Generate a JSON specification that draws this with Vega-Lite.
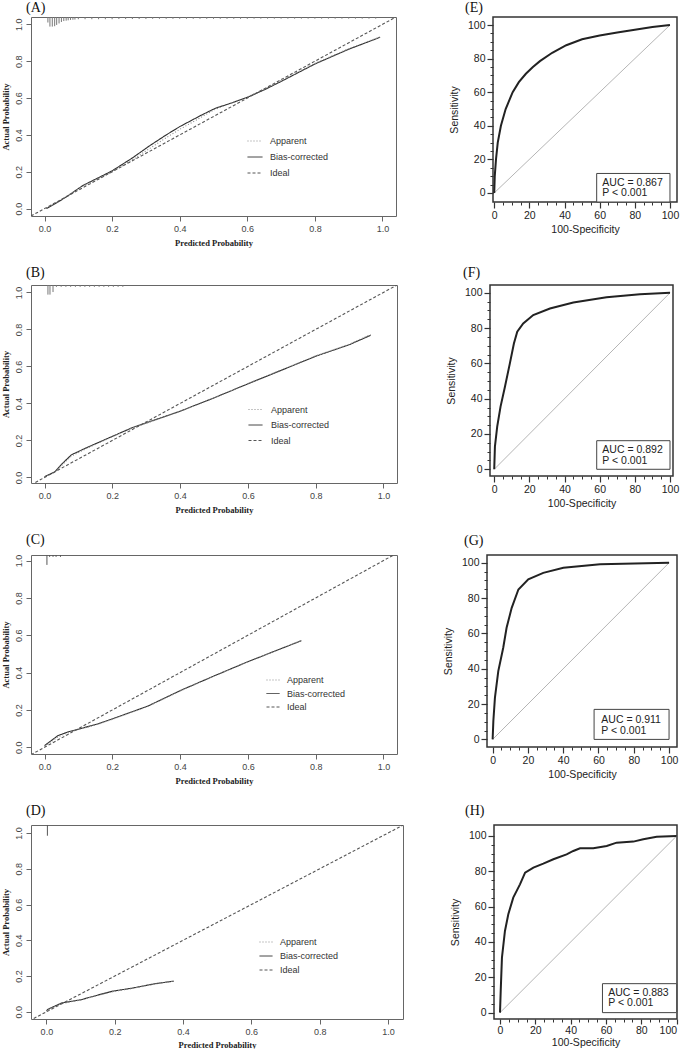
{
  "$schema": "https://vega.github.io/schema/vega-lite/v6.json",
  "background": "white",
  "padding": {"left": 0, "top": 0, "right": 0, "bottom": 0},
  "datasets": {
    "cal": [
      {"panel":"A","series":"Bias-corrected","x":0.005,"y":0.0},{"panel":"A","series":"Bias-corrected","x":0.03,"y":0.025},{"panel":"A","series":"Bias-corrected","x":0.064,"y":0.063},{"panel":"A","series":"Bias-corrected","x":0.113,"y":0.125},{"panel":"A","series":"Bias-corrected","x":0.162,"y":0.17},{"panel":"A","series":"Bias-corrected","x":0.2,"y":0.205},{"panel":"A","series":"Bias-corrected","x":0.26,"y":0.275},{"panel":"A","series":"Bias-corrected","x":0.31,"y":0.34},{"panel":"A","series":"Bias-corrected","x":0.36,"y":0.4},{"panel":"A","series":"Bias-corrected","x":0.4,"y":0.445},{"panel":"A","series":"Bias-corrected","x":0.467,"y":0.51},{"panel":"A","series":"Bias-corrected","x":0.506,"y":0.545},{"panel":"A","series":"Bias-corrected","x":0.556,"y":0.575},{"panel":"A","series":"Bias-corrected","x":0.605,"y":0.608},{"panel":"A","series":"Bias-corrected","x":0.654,"y":0.648},{"panel":"A","series":"Bias-corrected","x":0.703,"y":0.693},{"panel":"A","series":"Bias-corrected","x":0.8,"y":0.785},{"panel":"A","series":"Bias-corrected","x":0.9,"y":0.865},{"panel":"A","series":"Bias-corrected","x":0.993,"y":0.93},
      {"panel":"A","series":"Apparent","x":0.005,"y":0.0},{"panel":"A","series":"Apparent","x":0.03,"y":0.027},{"panel":"A","series":"Apparent","x":0.064,"y":0.065},{"panel":"A","series":"Apparent","x":0.113,"y":0.122},{"panel":"A","series":"Apparent","x":0.162,"y":0.165},{"panel":"A","series":"Apparent","x":0.2,"y":0.2},{"panel":"A","series":"Apparent","x":0.26,"y":0.265},{"panel":"A","series":"Apparent","x":0.31,"y":0.325},{"panel":"A","series":"Apparent","x":0.36,"y":0.385},{"panel":"A","series":"Apparent","x":0.4,"y":0.43},{"panel":"A","series":"Apparent","x":0.467,"y":0.5},{"panel":"A","series":"Apparent","x":0.506,"y":0.54},{"panel":"A","series":"Apparent","x":0.556,"y":0.575},{"panel":"A","series":"Apparent","x":0.605,"y":0.61},{"panel":"A","series":"Apparent","x":0.654,"y":0.652},{"panel":"A","series":"Apparent","x":0.703,"y":0.697},{"panel":"A","series":"Apparent","x":0.8,"y":0.788},{"panel":"A","series":"Apparent","x":0.9,"y":0.868},{"panel":"A","series":"Apparent","x":0.993,"y":0.932},
      {"panel":"A","series":"Ideal","x":-0.04,"y":-0.04},{"panel":"A","series":"Ideal","x":1.04,"y":1.04},
      {"panel":"B","series":"Bias-corrected","x":0.0,"y":0.004},{"panel":"B","series":"Bias-corrected","x":0.03,"y":0.03},{"panel":"B","series":"Bias-corrected","x":0.054,"y":0.078},{"panel":"B","series":"Bias-corrected","x":0.079,"y":0.122},{"panel":"B","series":"Bias-corrected","x":0.123,"y":0.16},{"panel":"B","series":"Bias-corrected","x":0.2,"y":0.222},{"panel":"B","series":"Bias-corrected","x":0.26,"y":0.27},{"panel":"B","series":"Bias-corrected","x":0.3,"y":0.295},{"panel":"B","series":"Bias-corrected","x":0.4,"y":0.358},{"panel":"B","series":"Bias-corrected","x":0.5,"y":0.43},{"panel":"B","series":"Bias-corrected","x":0.6,"y":0.506},{"panel":"B","series":"Bias-corrected","x":0.7,"y":0.58},{"panel":"B","series":"Bias-corrected","x":0.8,"y":0.655},{"panel":"B","series":"Bias-corrected","x":0.9,"y":0.718},{"panel":"B","series":"Bias-corrected","x":0.962,"y":0.768},
      {"panel":"B","series":"Apparent","x":0.0,"y":0.004},{"panel":"B","series":"Apparent","x":0.03,"y":0.028},{"panel":"B","series":"Apparent","x":0.054,"y":0.072},{"panel":"B","series":"Apparent","x":0.079,"y":0.115},{"panel":"B","series":"Apparent","x":0.123,"y":0.156},{"panel":"B","series":"Apparent","x":0.2,"y":0.22},{"panel":"B","series":"Apparent","x":0.26,"y":0.268},{"panel":"B","series":"Apparent","x":0.3,"y":0.293},{"panel":"B","series":"Apparent","x":0.4,"y":0.357},{"panel":"B","series":"Apparent","x":0.5,"y":0.43},{"panel":"B","series":"Apparent","x":0.6,"y":0.507},{"panel":"B","series":"Apparent","x":0.7,"y":0.582},{"panel":"B","series":"Apparent","x":0.8,"y":0.657},{"panel":"B","series":"Apparent","x":0.9,"y":0.72},{"panel":"B","series":"Apparent","x":0.962,"y":0.772},
      {"panel":"B","series":"Ideal","x":-0.04,"y":-0.04},{"panel":"B","series":"Ideal","x":1.04,"y":1.04},
      {"panel":"C","series":"Bias-corrected","x":0.0,"y":0.009},{"panel":"C","series":"Bias-corrected","x":0.02,"y":0.036},{"panel":"C","series":"Bias-corrected","x":0.039,"y":0.062},{"panel":"C","series":"Bias-corrected","x":0.069,"y":0.082},{"panel":"C","series":"Bias-corrected","x":0.098,"y":0.096},{"panel":"C","series":"Bias-corrected","x":0.157,"y":0.125},{"panel":"C","series":"Bias-corrected","x":0.2,"y":0.152},{"panel":"C","series":"Bias-corrected","x":0.304,"y":0.22},{"panel":"C","series":"Bias-corrected","x":0.402,"y":0.305},{"panel":"C","series":"Bias-corrected","x":0.5,"y":0.382},{"panel":"C","series":"Bias-corrected","x":0.598,"y":0.457},{"panel":"C","series":"Bias-corrected","x":0.696,"y":0.527},{"panel":"C","series":"Bias-corrected","x":0.758,"y":0.571},
      {"panel":"C","series":"Apparent","x":0.0,"y":0.006},{"panel":"C","series":"Apparent","x":0.02,"y":0.03},{"panel":"C","series":"Apparent","x":0.039,"y":0.055},{"panel":"C","series":"Apparent","x":0.069,"y":0.078},{"panel":"C","series":"Apparent","x":0.098,"y":0.094},{"panel":"C","series":"Apparent","x":0.157,"y":0.123},{"panel":"C","series":"Apparent","x":0.2,"y":0.15},{"panel":"C","series":"Apparent","x":0.304,"y":0.218},{"panel":"C","series":"Apparent","x":0.402,"y":0.303},{"panel":"C","series":"Apparent","x":0.5,"y":0.381},{"panel":"C","series":"Apparent","x":0.598,"y":0.456},{"panel":"C","series":"Apparent","x":0.696,"y":0.527},{"panel":"C","series":"Apparent","x":0.758,"y":0.573},
      {"panel":"C","series":"Ideal","x":-0.04,"y":-0.04},{"panel":"C","series":"Ideal","x":1.04,"y":1.04},
      {"panel":"D","series":"Bias-corrected","x":0.0,"y":0.006},{"panel":"D","series":"Bias-corrected","x":0.005,"y":0.015},{"panel":"D","series":"Bias-corrected","x":0.044,"y":0.049},{"panel":"D","series":"Bias-corrected","x":0.102,"y":0.068},{"panel":"D","series":"Bias-corrected","x":0.151,"y":0.094},{"panel":"D","series":"Bias-corrected","x":0.195,"y":0.116},{"panel":"D","series":"Bias-corrected","x":0.249,"y":0.132},{"panel":"D","series":"Bias-corrected","x":0.317,"y":0.157},{"panel":"D","series":"Bias-corrected","x":0.373,"y":0.172},
      {"panel":"D","series":"Apparent","x":0.0,"y":0.004},{"panel":"D","series":"Apparent","x":0.005,"y":0.012},{"panel":"D","series":"Apparent","x":0.044,"y":0.046},{"panel":"D","series":"Apparent","x":0.102,"y":0.067},{"panel":"D","series":"Apparent","x":0.151,"y":0.092},{"panel":"D","series":"Apparent","x":0.195,"y":0.113},{"panel":"D","series":"Apparent","x":0.249,"y":0.13},{"panel":"D","series":"Apparent","x":0.317,"y":0.155},{"panel":"D","series":"Apparent","x":0.373,"y":0.172},
      {"panel":"D","series":"Ideal","x":-0.05,"y":-0.05},{"panel":"D","series":"Ideal","x":1.05,"y":1.05}
    ],
    "spk": [
      {"panel":"A","x":0.01,"y":1.01,"y2":1.04},{"panel":"A","x":0.016,"y":0.988,"y2":1.04},{"panel":"A","x":0.023,"y":0.988,"y2":1.04},{"panel":"A","x":0.03,"y":0.99,"y2":1.04},{"panel":"A","x":0.036,"y":0.997,"y2":1.04},{"panel":"A","x":0.043,"y":1.005,"y2":1.04},{"panel":"A","x":0.05,"y":1.013,"y2":1.04},{"panel":"A","x":0.057,"y":1.018,"y2":1.04},{"panel":"A","x":0.064,"y":1.02,"y2":1.04},{"panel":"A","x":0.07,"y":1.022,"y2":1.04},{"panel":"A","x":0.077,"y":1.024,"y2":1.04},{"panel":"A","x":0.084,"y":1.025,"y2":1.04},{"panel":"A","x":0.09,"y":1.026,"y2":1.04},
      {"panel":"A","x":0.1,"y":1.028,"y2":1.04},{"panel":"A","x":0.12,"y":1.028,"y2":1.04},{"panel":"A","x":0.14,"y":1.028,"y2":1.04},{"panel":"A","x":0.16,"y":1.028,"y2":1.04},{"panel":"A","x":0.18,"y":1.028,"y2":1.04},{"panel":"A","x":0.2,"y":1.028,"y2":1.04},{"panel":"A","x":0.22,"y":1.029,"y2":1.04},{"panel":"A","x":0.24,"y":1.029,"y2":1.04},{"panel":"A","x":0.26,"y":1.029,"y2":1.04},{"panel":"A","x":0.28,"y":1.029,"y2":1.04},{"panel":"A","x":0.3,"y":1.029,"y2":1.04},{"panel":"A","x":0.32,"y":1.03,"y2":1.04},{"panel":"A","x":0.34,"y":1.03,"y2":1.04},{"panel":"A","x":0.36,"y":1.03,"y2":1.04},{"panel":"A","x":0.38,"y":1.03,"y2":1.04},{"panel":"A","x":0.4,"y":1.03,"y2":1.04},{"panel":"A","x":0.42,"y":1.03,"y2":1.04},{"panel":"A","x":0.44,"y":1.03,"y2":1.04},{"panel":"A","x":0.46,"y":1.03,"y2":1.04},{"panel":"A","x":0.48,"y":1.03,"y2":1.04},{"panel":"A","x":0.5,"y":1.03,"y2":1.04},{"panel":"A","x":0.52,"y":1.03,"y2":1.04},{"panel":"A","x":0.54,"y":1.03,"y2":1.04},{"panel":"A","x":0.56,"y":1.03,"y2":1.04},{"panel":"A","x":0.58,"y":1.03,"y2":1.04},{"panel":"A","x":0.6,"y":1.03,"y2":1.04},{"panel":"A","x":0.62,"y":1.031,"y2":1.04},{"panel":"A","x":0.64,"y":1.031,"y2":1.04},{"panel":"A","x":0.66,"y":1.031,"y2":1.04},{"panel":"A","x":0.68,"y":1.031,"y2":1.04},{"panel":"A","x":0.7,"y":1.031,"y2":1.04},{"panel":"A","x":0.72,"y":1.031,"y2":1.04},{"panel":"A","x":0.74,"y":1.031,"y2":1.04},{"panel":"A","x":0.76,"y":1.031,"y2":1.04},{"panel":"A","x":0.78,"y":1.031,"y2":1.04},{"panel":"A","x":0.8,"y":1.031,"y2":1.04},{"panel":"A","x":0.82,"y":1.031,"y2":1.04},{"panel":"A","x":0.84,"y":1.031,"y2":1.04},{"panel":"A","x":0.86,"y":1.031,"y2":1.04},{"panel":"A","x":0.88,"y":1.031,"y2":1.04},{"panel":"A","x":0.9,"y":1.031,"y2":1.04},{"panel":"A","x":0.92,"y":1.031,"y2":1.04},{"panel":"A","x":0.94,"y":1.031,"y2":1.04},{"panel":"A","x":0.96,"y":1.031,"y2":1.04},{"panel":"A","x":0.98,"y":1.031,"y2":1.04},
      {"panel":"B","x":0.01,"y":0.988,"y2":1.04},{"panel":"B","x":0.016,"y":0.988,"y2":1.04},{"panel":"B","x":0.025,"y":1.002,"y2":1.04},{"panel":"B","x":0.035,"y":1.03,"y2":1.04},{"panel":"B","x":0.049,"y":1.03,"y2":1.04},{"panel":"B","x":0.063,"y":1.03,"y2":1.04},{"panel":"B","x":0.077,"y":1.03,"y2":1.04},{"panel":"B","x":0.091,"y":1.03,"y2":1.04},{"panel":"B","x":0.105,"y":1.03,"y2":1.04},{"panel":"B","x":0.119,"y":1.03,"y2":1.04},{"panel":"B","x":0.133,"y":1.03,"y2":1.04},{"panel":"B","x":0.147,"y":1.03,"y2":1.04},{"panel":"B","x":0.161,"y":1.03,"y2":1.04},{"panel":"B","x":0.175,"y":1.03,"y2":1.04},{"panel":"B","x":0.189,"y":1.03,"y2":1.04},{"panel":"B","x":0.203,"y":1.03,"y2":1.04},{"panel":"B","x":0.217,"y":1.03,"y2":1.04},{"panel":"B","x":0.231,"y":1.03,"y2":1.04},
      {"panel":"C","x":0.007,"y":0.977,"y2":1.03},{"panel":"C","x":0.015,"y":1.02,"y2":1.03},{"panel":"C","x":0.025,"y":1.02,"y2":1.03},{"panel":"C","x":0.034,"y":1.02,"y2":1.03},{"panel":"C","x":0.047,"y":1.02,"y2":1.03},
      {"panel":"D","x":0.003,"y":0.985,"y2":1.045}
    ],
    "roc": [
      {"panel":"E","x":0,"y":0},{"panel":"E","x":0.3,"y":10},{"panel":"E","x":1,"y":20},{"panel":"E","x":2,"y":30},{"panel":"E","x":3.8,"y":40},{"panel":"E","x":6.5,"y":50},{"panel":"E","x":10.5,"y":60},{"panel":"E","x":14,"y":66},{"panel":"E","x":18,"y":71},{"panel":"E","x":22,"y":75},{"panel":"E","x":26,"y":78.5},{"panel":"E","x":33,"y":83.5},{"panel":"E","x":41,"y":88},{"panel":"E","x":50,"y":91.5},{"panel":"E","x":60,"y":93.8},{"panel":"E","x":70,"y":95.6},{"panel":"E","x":80,"y":97.2},{"panel":"E","x":90,"y":98.8},{"panel":"E","x":100,"y":100},
      {"panel":"F","x":0,"y":0},{"panel":"F","x":0.4,"y":12.8},{"panel":"F","x":1.7,"y":24.2},{"panel":"F","x":3.6,"y":35.5},{"panel":"F","x":6.1,"y":46.8},{"panel":"F","x":8.9,"y":60},{"panel":"F","x":11.2,"y":71.3},{"panel":"F","x":13.1,"y":77.9},{"panel":"F","x":16.5,"y":82.6},{"panel":"F","x":22.2,"y":87.4},{"panel":"F","x":31.7,"y":91.1},{"panel":"F","x":45,"y":94.5},{"panel":"F","x":63.9,"y":97.4},{"panel":"F","x":82.9,"y":99.2},{"panel":"F","x":100,"y":100},
      {"panel":"G","x":0,"y":0},{"panel":"G","x":0.4,"y":10.4},{"panel":"G","x":1.3,"y":23.6},{"panel":"G","x":3.2,"y":38.7},{"panel":"G","x":6,"y":51.9},{"panel":"G","x":7.9,"y":63.2},{"panel":"G","x":10.8,"y":74.5},{"panel":"G","x":14.6,"y":84.9},{"panel":"G","x":20.2,"y":90.6},{"panel":"G","x":28.7,"y":94.3},{"panel":"G","x":40.1,"y":97.2},{"panel":"G","x":60.9,"y":99.1},{"panel":"G","x":100,"y":100},
      {"panel":"H","x":0,"y":0},{"panel":"H","x":0.4,"y":12.3},{"panel":"H","x":1.1,"y":31.1},{"panel":"H","x":2.8,"y":46.2},{"panel":"H","x":4.7,"y":55.7},{"panel":"H","x":7.5,"y":65.1},{"panel":"H","x":11.3,"y":72.6},{"panel":"H","x":14.2,"y":79.2},{"panel":"H","x":18.9,"y":82.1},{"panel":"H","x":24.5,"y":84.3},{"panel":"H","x":30.2,"y":86.8},{"panel":"H","x":37.7,"y":89.6},{"panel":"H","x":41.5,"y":91.5},{"panel":"H","x":45.3,"y":93},{"panel":"H","x":52.8,"y":93},{"panel":"H","x":60.4,"y":94.3},{"panel":"H","x":66,"y":96.2},{"panel":"H","x":75.5,"y":96.8},{"panel":"H","x":81.1,"y":98.1},{"panel":"H","x":88.7,"y":99.6},{"panel":"H","x":100,"y":100}
    ],
    "diag": [
      {"panel":"E","x":0,"y":0},{"panel":"E","x":100,"y":100},
      {"panel":"F","x":0,"y":0},{"panel":"F","x":100,"y":100},
      {"panel":"G","x":0,"y":0},{"panel":"G","x":100,"y":100},
      {"panel":"H","x":0,"y":0},{"panel":"H","x":100,"y":100}
    ],
    "box": [
      {"panel":"E","x":58.3,"x2":100,"y":-5.4,"y2":11.6},
      {"panel":"F","x":58.3,"x2":100,"y":0,"y2":16.2},
      {"panel":"G","x":57.5,"x2":100,"y":0,"y2":17},
      {"panel":"H","x":58,"x2":100,"y":0,"y2":16.4}
    ],
    "txt": [
      {"panel":"E","x":61.5,"y":6,"label":"AUC = 0.867"},{"panel":"E","x":61.5,"y":0,"label":"P < 0.001"},
      {"panel":"F","x":61.5,"y":10.9,"label":"AUC = 0.892"},{"panel":"F","x":61.5,"y":4.7,"label":"P < 0.001"},
      {"panel":"G","x":61.6,"y":10.9,"label":"AUC = 0.911"},{"panel":"G","x":61.6,"y":4.7,"label":"P < 0.001"},
      {"panel":"H","x":61.3,"y":11.3,"label":"AUC = 0.883"},{"panel":"H","x":61.3,"y":5.3,"label":"P < 0.001"}
    ]
  },
  "spacing": 18,
  "resolve": {"scale": {"color": "independent", "strokeDash": "independent"}, "legend": {"color": "independent", "strokeDash": "independent"}},
  "vconcat": [
    {
      "spacing": 51,
      "resolve": {"scale": {"color": "independent", "strokeDash": "independent"}, "legend": {"color": "independent", "strokeDash": "independent"}},
      "hconcat": [
        {
          "width": 365, "height": 199,
          "view": {"stroke": "#666", "strokeWidth": 1},
          "title": {"text": "(A)", "anchor": "start", "frame": "group", "font": "Liberation Serif", "fontSize": 14, "fontWeight": "normal", "color": "#111", "offset": 2, "dx": -5},
          "encoding": {
            "x": {"field": "x", "type": "quantitative", "scale": {"domain": [-0.04, 1.04], "nice": false, "zero": false},
                  "axis": {"values": [0, 0.2, 0.4, 0.6, 0.8, 1], "format": ".1f", "title": "Predicted Probability", "titleFont": "Liberation Serif", "titleFontSize": 8.5, "titleFontWeight": "bold", "titleColor": "#222", "titlePadding": 5, "labelFont": "Liberation Sans", "labelFontSize": 9, "labelColor": "#444", "labelPadding": 3, "tickSize": 5, "tickColor": "#666", "domain": false, "grid": false}},
            "y": {"field": "y", "type": "quantitative", "scale": {"domain": [-0.04, 1.04], "nice": false, "zero": false},
                  "axis": {"values": [0, 0.2, 0.4, 0.6, 0.8, 1], "format": ".1f", "title": "Actual Probability", "titleFont": "Liberation Serif", "titleFontSize": 8.5, "titleFontWeight": "bold", "titleColor": "#222", "titlePadding": 4, "labelFont": "Liberation Sans", "labelFontSize": 9, "labelColor": "#444", "labelPadding": 3, "labelAngle": -90, "labelAlign": "center", "labelBaseline": "bottom", "tickSize": 5, "tickColor": "#666", "domain": false, "grid": false}}
          },
          "layer": [
            {"data": {"name": "spk"}, "transform": [{"filter": "datum.panel === 'A'"}],
             "mark": {"type": "rule", "color": "#777", "strokeWidth": 1},
             "encoding": {"y2": {"field": "y2"}}},
            {"data": {"name": "cal"}, "transform": [{"filter": "datum.panel === 'A'"}],
             "mark": {"type": "line", "clip": true, "strokeWidth": 1.1},
             "encoding": {
               "strokeDash": {"field": "series", "type": "nominal", "scale": {"domain": ["Apparent", "Bias-corrected", "Ideal"], "range": [[1, 2], [1, 0], [3, 2]]},
                 "legend": {"orient": "none", "legendX": 216, "legendY": 116, "title": null, "symbolType": "stroke", "symbolSize": 225, "symbolStrokeWidth": 1, "labelFont": "Liberation Sans", "labelFontSize": 9, "labelColor": "#333", "rowPadding": 3, "labelOffset": 7, "padding": 0}},
               "color": {"field": "series", "type": "nominal", "scale": {"domain": ["Apparent", "Bias-corrected", "Ideal"], "range": ["#8a8a8a", "#2e2e2e", "#555555"]},
                 "legend": {"orient": "none", "legendX": 216, "legendY": 116, "title": null, "symbolType": "stroke", "symbolSize": 225, "symbolStrokeWidth": 1, "labelFont": "Liberation Sans", "labelFontSize": 9, "labelColor": "#333", "rowPadding": 3, "labelOffset": 7, "padding": 0}}}}
          ]
        },
        {
          "width": 184, "height": 185,
          "view": {"stroke": "#333", "strokeWidth": 1.5},
          "title": {"text": "(E)", "anchor": "start", "frame": "group", "font": "Liberation Serif", "fontSize": 14, "fontWeight": "normal", "color": "#111", "offset": 2, "dx": -28},
          "resolve": {"axis": {"x": "independent", "y": "independent"}},
          "layer": [
            {"data": {"name": "diag"}, "transform": [{"filter": "datum.panel === 'E'"}],
             "mark": {"type": "line", "color": "#b5b5b5", "strokeWidth": 1},
             "encoding": {
               "x": {"field": "x", "type": "quantitative", "scale": {"domain": [-0.7, 104], "nice": false, "zero": false},
                     "axis": {"orient": "bottom", "values": [5,10,15,25,30,35,45,50,55,65,70,75,85,90,95], "labels": false, "title": null, "tickSize": 3, "tickColor": "#333", "domain": false, "grid": false}},
               "y": {"field": "y", "type": "quantitative", "scale": {"domain": [-5.4, 104.8], "nice": false, "zero": false},
                     "axis": {"orient": "left", "values": [5,10,15,25,30,35,45,50,55,65,70,75,85,90,95], "labels": false, "title": null, "tickSize": 3, "tickColor": "#333", "domain": false, "grid": false}}}},
            {"data": {"name": "roc"}, "transform": [{"filter": "datum.panel === 'E'"}],
             "mark": {"type": "line", "color": "#222", "strokeWidth": 2},
             "encoding": {
               "x": {"field": "x", "type": "quantitative",
                     "axis": {"orient": "bottom", "values": [0, 20, 40, 60, 80, 100], "title": "100-Specificity", "titleFont": "Liberation Sans", "titleFontSize": 10.5, "titleFontWeight": "normal", "titleColor": "#222", "titlePadding": 4, "labelFont": "Liberation Sans", "labelFontSize": 10.5, "labelColor": "#222", "labelPadding": 2, "tickSize": 6, "tickWidth": 1.2, "tickColor": "#333", "domain": false, "grid": false}},
               "y": {"field": "y", "type": "quantitative",
                     "axis": {"orient": "left", "values": [0, 20, 40, 60, 80, 100], "title": "Sensitivity", "titleFont": "Liberation Sans", "titleFontSize": 10.5, "titleFontWeight": "normal", "titleColor": "#222", "titlePadding": 8, "labelFont": "Liberation Sans", "labelFontSize": 10.5, "labelColor": "#222", "labelPadding": 2, "tickSize": 6, "tickWidth": 1.2, "tickColor": "#333", "domain": false, "grid": false}}}},
            {"data": {"name": "box"}, "transform": [{"filter": "datum.panel === 'E'"}],
             "mark": {"type": "rect", "fill": "white", "stroke": "#444", "strokeWidth": 1},
             "encoding": {"x": {"field": "x", "type": "quantitative", "axis": {"ticks": false, "labels": false, "domain": false, "grid": false, "title": null}}, "x2": {"field": "x2"}, "y": {"field": "y", "type": "quantitative", "axis": {"ticks": false, "labels": false, "domain": false, "grid": false, "title": null}}, "y2": {"field": "y2"}}},
            {"data": {"name": "txt"}, "transform": [{"filter": "datum.panel === 'E'"}],
             "mark": {"type": "text", "align": "left", "baseline": "middle", "font": "Liberation Sans", "fontSize": 10.5, "color": "#222"},
             "encoding": {"x": {"field": "x", "type": "quantitative", "axis": {"ticks": false, "labels": false, "domain": false, "grid": false, "title": null}}, "y": {"field": "y", "type": "quantitative", "axis": {"ticks": false, "labels": false, "domain": false, "grid": false, "title": null}}, "text": {"field": "label"}}}
          ]
        }
      ]
    },
    {
      "spacing": 47,
      "resolve": {"scale": {"color": "independent", "strokeDash": "independent"}, "legend": {"color": "independent", "strokeDash": "independent"}},
      "hconcat": [
        {
          "width": 366, "height": 198,
          "view": {"stroke": "#666", "strokeWidth": 1},
          "title": {"text": "(B)", "anchor": "start", "frame": "group", "font": "Liberation Serif", "fontSize": 14, "fontWeight": "normal", "color": "#111", "offset": 5, "dx": -5},
          "encoding": {
            "x": {"field": "x", "type": "quantitative", "scale": {"domain": [-0.04, 1.04], "nice": false, "zero": false},
                  "axis": {"values": [0, 0.2, 0.4, 0.6, 0.8, 1], "format": ".1f", "title": "Predicted Probability", "titleFont": "Liberation Serif", "titleFontSize": 8.5, "titleFontWeight": "bold", "titleColor": "#222", "titlePadding": 5, "labelFont": "Liberation Sans", "labelFontSize": 9, "labelColor": "#444", "labelPadding": 3, "tickSize": 5, "tickColor": "#666", "domain": false, "grid": false}},
            "y": {"field": "y", "type": "quantitative", "scale": {"domain": [-0.03, 1.04], "nice": false, "zero": false},
                  "axis": {"values": [0, 0.2, 0.4, 0.6, 0.8, 1], "format": ".1f", "title": "Actual Probability", "titleFont": "Liberation Serif", "titleFontSize": 8.5, "titleFontWeight": "bold", "titleColor": "#222", "titlePadding": 4, "labelFont": "Liberation Sans", "labelFontSize": 9, "labelColor": "#444", "labelPadding": 3, "labelAngle": -90, "labelAlign": "center", "labelBaseline": "bottom", "tickSize": 5, "tickColor": "#666", "domain": false, "grid": false}}
          },
          "layer": [
            {"data": {"name": "spk"}, "transform": [{"filter": "datum.panel === 'B'"}],
             "mark": {"type": "rule", "color": "#777", "strokeWidth": 1},
             "encoding": {"y2": {"field": "y2"}}},
            {"data": {"name": "cal"}, "transform": [{"filter": "datum.panel === 'B'"}],
             "mark": {"type": "line", "clip": true, "strokeWidth": 1.1},
             "encoding": {
               "strokeDash": {"field": "series", "type": "nominal", "scale": {"domain": ["Apparent", "Bias-corrected", "Ideal"], "range": [[1, 2], [1, 0], [3, 2]]},
                 "legend": {"orient": "none", "legendX": 217, "legendY": 117, "title": null, "symbolType": "stroke", "symbolSize": 196, "symbolStrokeWidth": 1, "labelFont": "Liberation Sans", "labelFontSize": 9, "labelColor": "#333", "rowPadding": 2.5, "labelOffset": 8, "padding": 0}},
               "color": {"field": "series", "type": "nominal", "scale": {"domain": ["Apparent", "Bias-corrected", "Ideal"], "range": ["#8a8a8a", "#2e2e2e", "#555555"]},
                 "legend": {"orient": "none", "legendX": 217, "legendY": 117, "title": null, "symbolType": "stroke", "symbolSize": 196, "symbolStrokeWidth": 1, "labelFont": "Liberation Sans", "labelFontSize": 9, "labelColor": "#333", "rowPadding": 2.5, "labelOffset": 8, "padding": 0}}}}
          ]
        },
        {
          "width": 183, "height": 191,
          "view": {"stroke": "#333", "strokeWidth": 1.5},
          "title": {"text": "(F)", "anchor": "start", "frame": "group", "font": "Liberation Serif", "fontSize": 14, "fontWeight": "normal", "color": "#111", "offset": 5, "dx": -27},
          "resolve": {"axis": {"x": "independent", "y": "independent"}},
          "layer": [
            {"data": {"name": "diag"}, "transform": [{"filter": "datum.panel === 'F'"}],
             "mark": {"type": "line", "color": "#b5b5b5", "strokeWidth": 1},
             "encoding": {
               "x": {"field": "x", "type": "quantitative", "scale": {"domain": [-2.4, 101.7], "nice": false, "zero": false},
                     "axis": {"orient": "bottom", "values": [5,10,15,25,30,35,45,50,55,65,70,75,85,90,95], "labels": false, "title": null, "tickSize": 3, "tickColor": "#333", "domain": false, "grid": false}},
               "y": {"field": "y", "type": "quantitative", "scale": {"domain": [-3.8, 104.4], "nice": false, "zero": false},
                     "axis": {"orient": "left", "values": [5,10,15,25,30,35,45,50,55,65,70,75,85,90,95], "labels": false, "title": null, "tickSize": 3, "tickColor": "#333", "domain": false, "grid": false}}}},
            {"data": {"name": "roc"}, "transform": [{"filter": "datum.panel === 'F'"}],
             "mark": {"type": "line", "color": "#222", "strokeWidth": 2},
             "encoding": {
               "x": {"field": "x", "type": "quantitative",
                     "axis": {"orient": "bottom", "values": [0, 20, 40, 60, 80, 100], "title": "100-Specificity", "titleFont": "Liberation Sans", "titleFontSize": 10.5, "titleFontWeight": "normal", "titleColor": "#222", "titlePadding": 4, "labelFont": "Liberation Sans", "labelFontSize": 10.5, "labelColor": "#222", "labelPadding": 2, "tickSize": 6, "tickWidth": 1.2, "tickColor": "#333", "domain": false, "grid": false}},
               "y": {"field": "y", "type": "quantitative",
                     "axis": {"orient": "left", "values": [0, 20, 40, 60, 80, 100], "title": "Sensitivity", "titleFont": "Liberation Sans", "titleFontSize": 10.5, "titleFontWeight": "normal", "titleColor": "#222", "titlePadding": 8, "labelFont": "Liberation Sans", "labelFontSize": 10.5, "labelColor": "#222", "labelPadding": 2, "tickSize": 6, "tickWidth": 1.2, "tickColor": "#333", "domain": false, "grid": false}}}},
            {"data": {"name": "box"}, "transform": [{"filter": "datum.panel === 'F'"}],
             "mark": {"type": "rect", "fill": "white", "stroke": "#444", "strokeWidth": 1},
             "encoding": {"x": {"field": "x", "type": "quantitative", "axis": {"ticks": false, "labels": false, "domain": false, "grid": false, "title": null}}, "x2": {"field": "x2"}, "y": {"field": "y", "type": "quantitative", "axis": {"ticks": false, "labels": false, "domain": false, "grid": false, "title": null}}, "y2": {"field": "y2"}}},
            {"data": {"name": "txt"}, "transform": [{"filter": "datum.panel === 'F'"}],
             "mark": {"type": "text", "align": "left", "baseline": "middle", "font": "Liberation Sans", "fontSize": 10.5, "color": "#222"},
             "encoding": {"x": {"field": "x", "type": "quantitative", "axis": {"ticks": false, "labels": false, "domain": false, "grid": false, "title": null}}, "y": {"field": "y", "type": "quantitative", "axis": {"ticks": false, "labels": false, "domain": false, "grid": false, "title": null}}, "text": {"field": "label"}}}
          ]
        }
      ]
    },
    {
      "spacing": 44,
      "resolve": {"scale": {"color": "independent", "strokeDash": "independent"}, "legend": {"color": "independent", "strokeDash": "independent"}},
      "hconcat": [
        {
          "width": 366, "height": 199,
          "view": {"stroke": "#666", "strokeWidth": 1},
          "title": {"text": "(C)", "anchor": "start", "frame": "group", "font": "Liberation Serif", "fontSize": 14, "fontWeight": "normal", "color": "#111", "offset": 7, "dx": -5},
          "encoding": {
            "x": {"field": "x", "type": "quantitative", "scale": {"domain": [-0.04, 1.04], "nice": false, "zero": false},
                  "axis": {"values": [0, 0.2, 0.4, 0.6, 0.8, 1], "format": ".1f", "title": "Predicted Probability", "titleFont": "Liberation Serif", "titleFontSize": 8.5, "titleFontWeight": "bold", "titleColor": "#222", "titlePadding": 5, "labelFont": "Liberation Sans", "labelFontSize": 9, "labelColor": "#444", "labelPadding": 3, "tickSize": 5, "tickColor": "#666", "domain": false, "grid": false}},
            "y": {"field": "y", "type": "quantitative", "scale": {"domain": [-0.036, 1.03], "nice": false, "zero": false},
                  "axis": {"values": [0, 0.2, 0.4, 0.6, 0.8, 1], "format": ".1f", "title": "Actual Probability", "titleFont": "Liberation Serif", "titleFontSize": 8.5, "titleFontWeight": "bold", "titleColor": "#222", "titlePadding": 4, "labelFont": "Liberation Sans", "labelFontSize": 9, "labelColor": "#444", "labelPadding": 3, "labelAngle": -90, "labelAlign": "center", "labelBaseline": "bottom", "tickSize": 5, "tickColor": "#666", "domain": false, "grid": false}}
          },
          "layer": [
            {"data": {"name": "spk"}, "transform": [{"filter": "datum.panel === 'C'"}],
             "mark": {"type": "rule", "color": "#555", "strokeWidth": 1},
             "encoding": {"y2": {"field": "y2"}}},
            {"data": {"name": "cal"}, "transform": [{"filter": "datum.panel === 'C'"}],
             "mark": {"type": "line", "clip": true, "strokeWidth": 1.1},
             "encoding": {
               "strokeDash": {"field": "series", "type": "nominal", "scale": {"domain": ["Apparent", "Bias-corrected", "Ideal"], "range": [[1, 2], [1, 0], [3, 2]]},
                 "legend": {"orient": "none", "legendX": 235, "legendY": 118, "title": null, "symbolType": "stroke", "symbolSize": 169, "symbolStrokeWidth": 1, "labelFont": "Liberation Sans", "labelFontSize": 9, "labelColor": "#333", "rowPadding": 1.5, "labelOffset": 7, "padding": 0}},
               "color": {"field": "series", "type": "nominal", "scale": {"domain": ["Apparent", "Bias-corrected", "Ideal"], "range": ["#8a8a8a", "#2e2e2e", "#555555"]},
                 "legend": {"orient": "none", "legendX": 235, "legendY": 118, "title": null, "symbolType": "stroke", "symbolSize": 169, "symbolStrokeWidth": 1, "labelFont": "Liberation Sans", "labelFontSize": 9, "labelColor": "#333", "rowPadding": 1.5, "labelOffset": 7, "padding": 0}}}}
          ]
        },
        {
          "width": 190, "height": 192,
          "view": {"stroke": "#333", "strokeWidth": 1.5},
          "title": {"text": "(G)", "anchor": "start", "frame": "group", "font": "Liberation Serif", "fontSize": 14, "fontWeight": "normal", "color": "#111", "offset": 7, "dx": -23},
          "resolve": {"axis": {"x": "independent", "y": "independent"}},
          "layer": [
            {"data": {"name": "diag"}, "transform": [{"filter": "datum.panel === 'G'"}],
             "mark": {"type": "line", "color": "#b5b5b5", "strokeWidth": 1},
             "encoding": {
               "x": {"field": "x", "type": "quantitative", "scale": {"domain": [-3.2, 104.5], "nice": false, "zero": false},
                     "axis": {"orient": "bottom", "values": [5,10,15,25,30,35,45,50,55,65,70,75,85,90,95], "labels": false, "title": null, "tickSize": 3, "tickColor": "#333", "domain": false, "grid": false}},
               "y": {"field": "y", "type": "quantitative", "scale": {"domain": [-4.3, 104.4], "nice": false, "zero": false},
                     "axis": {"orient": "left", "values": [5,10,15,25,30,35,45,50,55,65,70,75,85,90,95], "labels": false, "title": null, "tickSize": 3, "tickColor": "#333", "domain": false, "grid": false}}}},
            {"data": {"name": "roc"}, "transform": [{"filter": "datum.panel === 'G'"}],
             "mark": {"type": "line", "color": "#222", "strokeWidth": 2},
             "encoding": {
               "x": {"field": "x", "type": "quantitative",
                     "axis": {"orient": "bottom", "values": [0, 20, 40, 60, 80, 100], "title": "100-Specificity", "titleFont": "Liberation Sans", "titleFontSize": 10.5, "titleFontWeight": "normal", "titleColor": "#222", "titlePadding": 4, "labelFont": "Liberation Sans", "labelFontSize": 10.5, "labelColor": "#222", "labelPadding": 2, "tickSize": 6, "tickWidth": 1.2, "tickColor": "#333", "domain": false, "grid": false}},
               "y": {"field": "y", "type": "quantitative",
                     "axis": {"orient": "left", "values": [0, 20, 40, 60, 80, 100], "title": "Sensitivity", "titleFont": "Liberation Sans", "titleFontSize": 10.5, "titleFontWeight": "normal", "titleColor": "#222", "titlePadding": 8, "labelFont": "Liberation Sans", "labelFontSize": 10.5, "labelColor": "#222", "labelPadding": 2, "tickSize": 6, "tickWidth": 1.2, "tickColor": "#333", "domain": false, "grid": false}}}},
            {"data": {"name": "box"}, "transform": [{"filter": "datum.panel === 'G'"}],
             "mark": {"type": "rect", "fill": "white", "stroke": "#444", "strokeWidth": 1},
             "encoding": {"x": {"field": "x", "type": "quantitative", "axis": {"ticks": false, "labels": false, "domain": false, "grid": false, "title": null}}, "x2": {"field": "x2"}, "y": {"field": "y", "type": "quantitative", "axis": {"ticks": false, "labels": false, "domain": false, "grid": false, "title": null}}, "y2": {"field": "y2"}}},
            {"data": {"name": "txt"}, "transform": [{"filter": "datum.panel === 'G'"}],
             "mark": {"type": "text", "align": "left", "baseline": "middle", "font": "Liberation Sans", "fontSize": 10.5, "color": "#222"},
             "encoding": {"x": {"field": "x", "type": "quantitative", "axis": {"ticks": false, "labels": false, "domain": false, "grid": false, "title": null}}, "y": {"field": "y", "type": "quantitative", "axis": {"ticks": false, "labels": false, "domain": false, "grid": false, "title": null}}, "text": {"field": "label"}}}
          ]
        }
      ]
    },
    {
      "spacing": 45,
      "resolve": {"scale": {"color": "independent", "strokeDash": "independent"}, "legend": {"color": "independent", "strokeDash": "independent"}},
      "hconcat": [
        {
          "width": 372, "height": 194,
          "view": {"stroke": "#666", "strokeWidth": 1},
          "title": {"text": "(D)", "anchor": "start", "frame": "group", "font": "Liberation Serif", "fontSize": 14, "fontWeight": "normal", "color": "#111", "offset": 7, "dx": -5},
          "encoding": {
            "x": {"field": "x", "type": "quantitative", "scale": {"domain": [-0.045, 1.044], "nice": false, "zero": false},
                  "axis": {"values": [0, 0.2, 0.4, 0.6, 0.8, 1], "format": ".1f", "title": "Predicted Probability", "titleFont": "Liberation Serif", "titleFontSize": 8.5, "titleFontWeight": "bold", "titleColor": "#222", "titlePadding": 4, "labelFont": "Liberation Sans", "labelFontSize": 9, "labelColor": "#444", "labelPadding": 3, "tickSize": 5, "tickColor": "#666", "domain": false, "grid": false}},
            "y": {"field": "y", "type": "quantitative", "scale": {"domain": [-0.04, 1.045], "nice": false, "zero": false},
                  "axis": {"values": [0, 0.2, 0.4, 0.6, 0.8, 1], "format": ".1f", "title": "Actual Probability", "titleFont": "Liberation Serif", "titleFontSize": 8.5, "titleFontWeight": "bold", "titleColor": "#222", "titlePadding": 4, "labelFont": "Liberation Sans", "labelFontSize": 9, "labelColor": "#444", "labelPadding": 3, "labelAngle": -90, "labelAlign": "center", "labelBaseline": "bottom", "tickSize": 5, "tickColor": "#666", "domain": false, "grid": false}}
          },
          "layer": [
            {"data": {"name": "spk"}, "transform": [{"filter": "datum.panel === 'D'"}],
             "mark": {"type": "rule", "color": "#555", "strokeWidth": 1},
             "encoding": {"y2": {"field": "y2"}}},
            {"data": {"name": "cal"}, "transform": [{"filter": "datum.panel === 'D'"}],
             "mark": {"type": "line", "clip": true, "strokeWidth": 1.1},
             "encoding": {
               "strokeDash": {"field": "series", "type": "nominal", "scale": {"domain": ["Apparent", "Bias-corrected", "Ideal"], "range": [[1, 2], [1, 0], [3, 2]]},
                 "legend": {"orient": "none", "legendX": 228, "legendY": 110, "title": null, "symbolType": "stroke", "symbolSize": 169, "symbolStrokeWidth": 1, "labelFont": "Liberation Sans", "labelFontSize": 9, "labelColor": "#333", "rowPadding": 2, "labelOffset": 7, "padding": 0}},
               "color": {"field": "series", "type": "nominal", "scale": {"domain": ["Apparent", "Bias-corrected", "Ideal"], "range": ["#8a8a8a", "#2e2e2e", "#555555"]},
                 "legend": {"orient": "none", "legendX": 228, "legendY": 110, "title": null, "symbolType": "stroke", "symbolSize": 169, "symbolStrokeWidth": 1, "labelFont": "Liberation Sans", "labelFontSize": 9, "labelColor": "#333", "rowPadding": 2, "labelOffset": 7, "padding": 0}}}}
          ]
        },
        {
          "width": 183, "height": 194,
          "view": {"stroke": "#333", "strokeWidth": 1.5},
          "title": {"text": "(H)", "anchor": "start", "frame": "group", "font": "Liberation Serif", "fontSize": 14, "fontWeight": "normal", "color": "#111", "offset": 7, "dx": -29},
          "resolve": {"axis": {"x": "independent", "y": "independent"}},
          "layer": [
            {"data": {"name": "diag"}, "transform": [{"filter": "datum.panel === 'H'"}],
             "mark": {"type": "line", "color": "#b5b5b5", "strokeWidth": 1},
             "encoding": {
               "x": {"field": "x", "type": "quantitative", "scale": {"domain": [-3.4, 100.2], "nice": false, "zero": false},
                     "axis": {"orient": "bottom", "values": [5,10,15,25,30,35,45,50,55,65,70,75,85,90,95], "labels": false, "title": null, "tickSize": 3, "tickColor": "#333", "domain": false, "grid": false}},
               "y": {"field": "y", "type": "quantitative", "scale": {"domain": [-3.6, 106.2], "nice": false, "zero": false},
                     "axis": {"orient": "left", "values": [5,10,15,25,30,35,45,50,55,65,70,75,85,90,95], "labels": false, "title": null, "tickSize": 3, "tickColor": "#333", "domain": false, "grid": false}}}},
            {"data": {"name": "roc"}, "transform": [{"filter": "datum.panel === 'H'"}],
             "mark": {"type": "line", "color": "#222", "strokeWidth": 2},
             "encoding": {
               "x": {"field": "x", "type": "quantitative",
                     "axis": {"orient": "bottom", "values": [0, 20, 40, 60, 80, 100], "title": "100-Specificity", "titleFont": "Liberation Sans", "titleFontSize": 10.5, "titleFontWeight": "normal", "titleColor": "#222", "titlePadding": 2, "labelFont": "Liberation Sans", "labelFontSize": 10.5, "labelColor": "#222", "labelPadding": 1, "tickSize": 5, "tickWidth": 1.2, "tickColor": "#333", "domain": false, "grid": false}},
               "y": {"field": "y", "type": "quantitative",
                     "axis": {"orient": "left", "values": [0, 20, 40, 60, 80, 100], "title": "Sensitivity", "titleFont": "Liberation Sans", "titleFontSize": 10.5, "titleFontWeight": "normal", "titleColor": "#222", "titlePadding": 8, "labelFont": "Liberation Sans", "labelFontSize": 10.5, "labelColor": "#222", "labelPadding": 2, "tickSize": 6, "tickWidth": 1.2, "tickColor": "#333", "domain": false, "grid": false}}}},
            {"data": {"name": "box"}, "transform": [{"filter": "datum.panel === 'H'"}],
             "mark": {"type": "rect", "fill": "white", "stroke": "#444", "strokeWidth": 1},
             "encoding": {"x": {"field": "x", "type": "quantitative", "axis": {"ticks": false, "labels": false, "domain": false, "grid": false, "title": null}}, "x2": {"field": "x2"}, "y": {"field": "y", "type": "quantitative", "axis": {"ticks": false, "labels": false, "domain": false, "grid": false, "title": null}}, "y2": {"field": "y2"}}},
            {"data": {"name": "txt"}, "transform": [{"filter": "datum.panel === 'H'"}],
             "mark": {"type": "text", "align": "left", "baseline": "middle", "font": "Liberation Sans", "fontSize": 10.5, "color": "#222"},
             "encoding": {"x": {"field": "x", "type": "quantitative", "axis": {"ticks": false, "labels": false, "domain": false, "grid": false, "title": null}}, "y": {"field": "y", "type": "quantitative", "axis": {"ticks": false, "labels": false, "domain": false, "grid": false, "title": null}}, "text": {"field": "label"}}}
          ]
        }
      ]
    }
  ],
  "config": {"view": {"stroke": null}, "axis": {"grid": false}, "font": "Liberation Sans"}
}
